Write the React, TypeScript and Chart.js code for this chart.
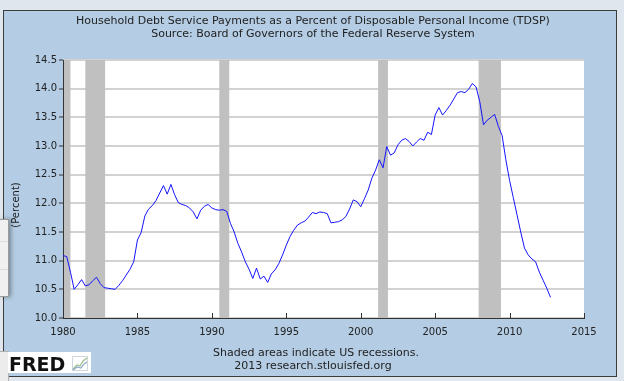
import React, { useEffect, useRef } from "react";
import { Chart, registerables } from "chart.js";

Chart.register(...registerables);

// Quarterly data, 1980Q1 .. 2012Q4
const START_YEAR = 1980;
const TDSP = [
  11.09, 11.07, 10.8, 10.5, 10.58, 10.67, 10.56, 10.58, 10.65, 10.71,
  10.6, 10.53, 10.52, 10.51, 10.5, 10.57, 10.65, 10.75, 10.85, 10.98,
  11.36, 11.49, 11.78, 11.9, 11.96, 12.05, 12.18, 12.31, 12.16, 12.33,
  12.15, 12.01, 11.98, 11.96, 11.92, 11.85, 11.73, 11.88, 11.95, 11.98,
  11.92, 11.89, 11.88, 11.89, 11.86, 11.65, 11.5, 11.3, 11.15, 10.98,
  10.85, 10.69, 10.87, 10.68, 10.73, 10.62, 10.77, 10.84, 10.95, 11.1,
  11.27, 11.42, 11.53, 11.62, 11.66, 11.69, 11.76, 11.84, 11.82, 11.85,
  11.84, 11.82, 11.66, 11.67, 11.68, 11.71, 11.77, 11.9, 12.06, 12.03,
  11.94, 12.08, 12.23, 12.44, 12.58, 12.76, 12.62, 12.99, 12.84, 12.88,
  13.02, 13.1, 13.13, 13.08, 13.0, 13.07, 13.13, 13.1, 13.24, 13.2,
  13.54, 13.67, 13.54, 13.62, 13.71, 13.82, 13.93, 13.95, 13.93, 13.99,
  14.09, 14.03, 13.77, 13.37, 13.45, 13.5, 13.55, 13.34, 13.18, 12.76,
  12.4, 12.1, 11.8, 11.5, 11.22, 11.1, 11.03, 10.98, 10.8, 10.66,
  10.52, 10.36,
];

const RECESSION_START = [1980.0, 1981.5, 1990.5, 2001.17, 2007.92];
const RECESSION_END = [1980.5, 1982.83, 1991.17, 2001.83, 2009.42];

const X_TICKS = [1980, 1985, 1990, 1995, 2000, 2005, 2010, 2015];
const Y_TICKS = [10.0, 10.5, 11.0, 11.5, 12.0, 12.5, 13.0, 13.5, 14.0, 14.5];

const TITLE_LINES = [
  "Household Debt Service Payments as a Percent of Disposable Personal Income (TDSP)",
  "Source: Board of Governors of the Federal Reserve System",
];
const FOOTER_LINES = [
  "Shaded areas indicate US recessions.",
  "2013 research.stlouisfed.org",
];
const Y_TITLE = "(Percent)";

const FONT = "'DejaVu Sans', Verdana, sans-serif";

const decorPlugin = {
  id: "decor",
  beforeDraw(chart: any) {
    const { ctx, chartArea: a } = chart;
    ctx.save();
    ctx.fillStyle = "#dfe6ee";
    ctx.fillRect(0, 0, chart.width, chart.height);
    ctx.fillStyle = "#b4cde4";
    ctx.fillRect(3, 10, 614, 367);
    ctx.strokeStyle = "#3c3c3c";
    ctx.lineWidth = 1;
    ctx.strokeRect(3.5, 10.5, 613, 366);
    ctx.fillStyle = "#ffffff";
    ctx.fillRect(a.left, a.top, a.right - a.left, a.bottom - a.top);
    ctx.restore();
  },
  beforeDatasetsDraw(chart: any) {
    const { ctx, chartArea: a } = chart;
    const xs = chart.scales.x;
    ctx.save();
    ctx.fillStyle = "#c0c0c0";
    RECESSION_START.forEach((s, i) => {
      const x0 = Math.max(xs.getPixelForValue(s), a.left + 1);
      const x1 = xs.getPixelForValue(RECESSION_END[i]);
      ctx.fillRect(x0, a.top, x1 - x0, a.bottom - a.top);
    });
    ctx.restore();
  },
  afterDraw(chart: any) {
    const { ctx, chartArea: a } = chart;
    const xs = chart.scales.x;
    ctx.save();
    // x tick marks pointing inside
    ctx.strokeStyle = "#333";
    ctx.lineWidth = 1;
    X_TICKS.forEach((t) => {
      const x = Math.round(xs.getPixelForValue(t)) + 0.5;
      ctx.beginPath();
      ctx.moveTo(x, a.bottom);
      ctx.lineTo(x, a.bottom - 5);
      ctx.stroke();
    });
    // titles
    ctx.fillStyle = "#222";
    ctx.textAlign = "center";
    ctx.textBaseline = "middle";
    ctx.font = `11px ${FONT}`;
    ctx.fillText(TITLE_LINES[0], 313, 21);
    ctx.fillText(TITLE_LINES[1], 313, 34);
    ctx.fillText(FOOTER_LINES[0], 316, 353);
    ctx.fillText(FOOTER_LINES[1], 313, 366);
    // y title
    ctx.font = `10px ${FONT}`;
    ctx.save();
    ctx.translate(16, 205);
    ctx.rotate(-Math.PI / 2);
    ctx.fillText(Y_TITLE, 0, 0);
    ctx.restore();
    // popup artefact on left
    ctx.shadowColor = "rgba(0,0,0,0.35)";
    ctx.shadowBlur = 4;
    ctx.shadowOffsetX = 2;
    ctx.fillStyle = "#f0f0f0";
    ctx.fillRect(0, 219, 9, 78);
    ctx.shadowColor = "transparent";
    ctx.strokeStyle = "#dcdcdc";
    ctx.beginPath();
    ctx.moveTo(0, 241.5);
    ctx.lineTo(9, 241.5);
    ctx.moveTo(0, 269.5);
    ctx.lineTo(9, 269.5);
    ctx.stroke();
    ctx.strokeStyle = "#9a9a9a";
    ctx.strokeRect(-1, 219.5, 9.5, 77);
    ctx.fillStyle = "#ececec";
    ctx.fillRect(0, 351, 8, 30);
    ctx.strokeStyle = "#b0b0b0";
    ctx.strokeRect(-1, 351.5, 9.5, 31);
    // FRED logo
    ctx.fillStyle = "#ffffff";
    ctx.fillRect(8, 352, 83, 21);
    ctx.fillStyle = "#111";
    ctx.textAlign = "left";
    ctx.textBaseline = "alphabetic";
    ctx.font = `bold 19px ${FONT}`;
    ctx.fillText("FRED", 9, 371);
    ctx.strokeStyle = "#cfd6dc";
    ctx.strokeRect(72.5, 356.5, 15, 14);
    ctx.strokeStyle = "#9bbf8a";
    ctx.lineWidth = 1.2;
    ctx.beginPath();
    ctx.moveTo(73, 369);
    ctx.lineTo(77, 365);
    ctx.lineTo(80, 366);
    ctx.lineTo(83, 361);
    ctx.lineTo(87, 358);
    ctx.stroke();
    ctx.strokeStyle = "#8fa7c8";
    ctx.beginPath();
    ctx.moveTo(73, 370);
    ctx.lineTo(77, 367);
    ctx.lineTo(81, 368);
    ctx.lineTo(84, 364);
    ctx.lineTo(87, 362);
    ctx.stroke();
    ctx.restore();
  },
};

export default function App() {
  const ref = useRef<HTMLCanvasElement | null>(null);

  useEffect(() => {
    if (!ref.current) return;
    const points = TDSP.map((v, i) => ({ x: START_YEAR + i / 4, y: v }));
    const chart = new Chart(ref.current, {
      type: "line",
      data: {
        datasets: [
          {
            data: points,
            borderColor: "#1414ff",
            borderWidth: 1,
            pointRadius: 0,
            tension: 0,
            fill: false,
          },
        ],
      },
      options: {
        responsive: false,
        maintainAspectRatio: false,
        animation: false,
        events: [],
        layout: { padding: { left: 3, top: 60, right: 40, bottom: 0 } },
        plugins: {
          legend: { display: false },
          title: { display: false },
          tooltip: { enabled: false },
        },
        scales: {
          x: {
            type: "linear",
            min: X_TICKS[0],
            max: X_TICKS[X_TICKS.length - 1],
            afterBuildTicks: (s: any) => {
              s.ticks = X_TICKS.map((v) => ({ value: v }));
            },
            afterFit: (s: any) => {
              s.height = 63;
            },
            ticks: {
              callback: (v: any) => String(v),
              font: { family: FONT, size: 10 },
              color: "#222",
              padding: 8,
              maxRotation: 0,
              autoSkip: false,
            },
            grid: { drawOnChartArea: false, drawTicks: false },
            border: { display: true, color: "#333", width: 1 },
          },
          y: {
            type: "linear",
            min: Y_TICKS[0],
            max: Y_TICKS[Y_TICKS.length - 1],
            afterBuildTicks: (s: any) => {
              s.ticks = Y_TICKS.map((v) => ({ value: v }));
            },
            afterFit: (s: any) => {
              s.width = 60;
            },
            ticks: {
              callback: (v: any) => Number(v).toFixed(1),
              font: { family: FONT, size: 10 },
              color: "#222",
              padding: 2,
              autoSkip: false,
            },
            grid: {
              color: "#d2d2d2",
              lineWidth: 2,
              tickLength: 4,
              tickColor: "#333",
              tickWidth: 1,
            },
            border: { display: true, color: "#333", width: 1 },
          },
        },
      },
      plugins: [decorPlugin],
    });
    return () => chart.destroy();
  }, []);

  return (
    <div style={{ position: "fixed", left: 0, top: 0, width: 624, height: 381 }}>
      <canvas ref={ref} width={624} height={381} style={{ display: "block" }} />
    </div>
  );
}
